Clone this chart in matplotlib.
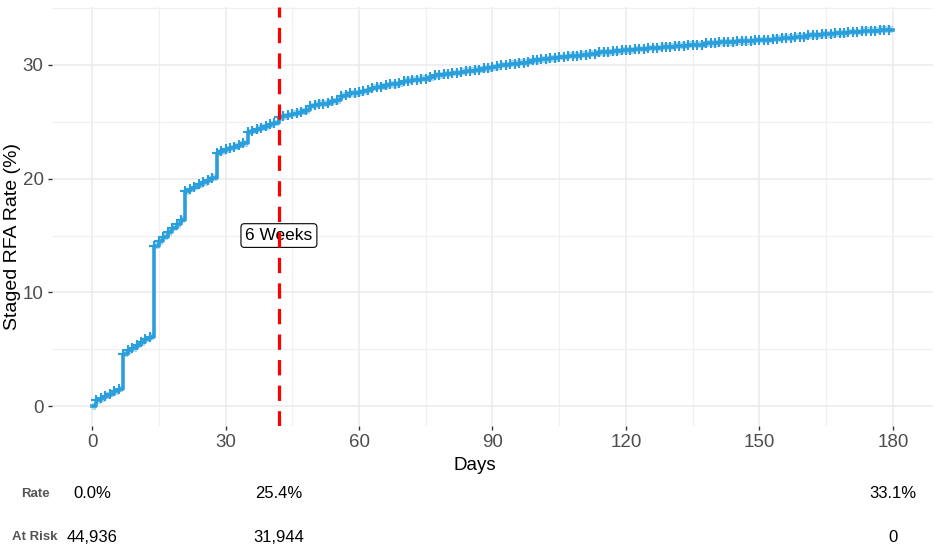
import matplotlib
matplotlib.use("Agg")
import matplotlib.pyplot as plt
import numpy as np

plt.rcParams['font.family'] = ['Liberation Sans', 'DejaVu Sans']

# ---------------- data ----------------
days = list(range(0, 180))
rate_pct = [
    0.0, 0.5, 0.7, 0.9, 1.1, 1.3, 1.5,
    4.6, 4.9, 5.1, 5.4, 5.6, 5.9, 6.1,
    14.1, 14.5, 14.9, 15.3, 15.7, 16.0, 16.4,
    18.9, 19.1, 19.3, 19.5, 19.7, 19.9, 20.1,
    22.3, 22.4, 22.6, 22.7, 22.8, 23.0, 23.1,
    24.1, 24.2, 24.4, 24.5, 24.6, 24.8, 24.9,
    25.4, 25.5, 25.6, 25.7, 25.8, 25.9, 26.0,
    26.4, 26.5, 26.6, 26.6, 26.7, 26.8, 26.9,
    27.3, 27.4, 27.5, 27.5, 27.6, 27.7, 27.8,
    28.0, 28.1, 28.1, 28.2, 28.3, 28.3, 28.4,
    28.6, 28.6, 28.7, 28.7, 28.8, 28.8, 28.9,
    29.1, 29.1, 29.2, 29.2, 29.3, 29.3, 29.4,
    29.5, 29.5, 29.6, 29.6, 29.7, 29.7, 29.8,
    29.9, 30.0, 30.0, 30.1, 30.1, 30.2, 30.2,
    30.3, 30.4, 30.4, 30.5, 30.5, 30.6, 30.6,
    30.7, 30.7, 30.8, 30.8, 30.8, 30.9, 30.9,
    31.0, 31.0, 31.1, 31.1, 31.1, 31.2, 31.2,
    31.3, 31.3, 31.3, 31.4, 31.4, 31.4, 31.5,
    31.5, 31.5, 31.6, 31.6, 31.6, 31.7, 31.7,
    31.7, 31.8, 31.8, 31.8, 31.8, 31.9, 31.9,
    31.9, 32.0, 32.0, 32.0, 32.0, 32.1, 32.1,
    32.1, 32.1, 32.2, 32.2, 32.2, 32.2, 32.3,
    32.3, 32.4, 32.4, 32.4, 32.5, 32.5, 32.5,
    32.6, 32.6, 32.6, 32.7, 32.7, 32.7, 32.8,
    32.8, 32.8, 32.9, 32.9, 32.9, 33.0, 33.0,
    33.0, 33.0, 33.1, 33.1, 33.1,
]
ci_halfwidth = 0.3
follow_up_end = 180
marker_day = 42
marker_label = "6 Weeks"
marker_label_y = 15

x_ticks = [0, 30, 60, 90, 120, 150, 180]
y_ticks = [0, 10, 20, 30]

table_rows = ["Rate", "At Risk"]
table_days = [0, 42, 180]
table_rate = ["0.0%", "25.4%", "33.1%"]
table_at_risk = ["44,936", "31,944", "0"]

# ---------------- figure ----------------
W, H = 937, 549
fig = plt.figure(figsize=(W / 100, H / 100), dpi=100)
fig.patch.set_facecolor("white")

L, R, T, B = 52, 933, 7, 426
ax = fig.add_axes([L / W, 1 - B / H, (R - L) / W, (B - T) / H])
ax.set_xlim(-9, 189)
ax.set_ylim(-1.75, 35.1)

for s in ax.spines.values():
    s.set_visible(False)

ax.set_xticks(x_ticks)
ax.set_yticks(y_ticks)
ax.set_xticks([15, 45, 75, 105, 135, 165], minor=True)
ax.set_yticks([5, 15, 25, 35], minor=True)
ax.grid(True, which="major", color="#EBEBEB", linewidth=1.1, zorder=0)
ax.grid(True, which="minor", color="#F0F0F0", linewidth=0.9, zorder=0)
ax.tick_params(axis="both", which="major", length=3, width=1.0, color="#333333",
               labelsize=13.5, labelcolor="#4D4D4D", pad=3)
ax.tick_params(axis="both", which="minor", length=0)
ax.set_axisbelow(True)

t = np.array(days + [follow_up_end])
r = np.array(rate_pct + [rate_pct[-1]])

line_col = "#2B9FDC"
band_col = "#A9DAF3"
ax.fill_between(t, r - ci_halfwidth, r + ci_halfwidth, step="post",
                color=band_col, linewidth=0, zorder=2)
ax.step(t, r, where="post", color=line_col, linewidth=2.6, zorder=3)
ax.plot(days[1:], rate_pct[1:], linestyle="none", marker="+", markersize=7.5,
        markeredgewidth=1.5, color=line_col, zorder=4)

ax.text(marker_day, marker_label_y, marker_label, ha="center", va="center",
        fontsize=12.5, color="black", zorder=5,
        bbox=dict(boxstyle="round,pad=0.25,rounding_size=0.2", facecolor="white",
                  edgecolor="black", linewidth=0.8))
ax.axvline(marker_day, color="#FF0000", linewidth=2.3, dashes=(4.8, 3.2), zorder=6)

def fig_y(py):
    return 1 - py / H

fig.text(13 / W, fig_y(236), "Staged RFA Rate (%)", rotation=90, ha="center",
         va="center", fontsize=14, color="black")
fig.text(475 / W, fig_y(465), "Days", ha="center", va="center", fontsize=13.5,
         color="black")

# ---------------- risk table ----------------
row_y = [494, 537]
for lab, py in zip(table_rows, row_y):
    fig.text(35 / W, fig_y(py), lab, ha="center", va="center", fontsize=9.5,
             fontweight="bold", color="#555555")

for d, rv, av in zip(table_days, table_rate, table_at_risk):
    xf = ax.transData.transform((d, 0))[0]
    xf = fig.transFigure.inverted().transform((xf, 0))[0]
    fig.text(xf, fig_y(row_y[0]), rv, ha="center", va="center", fontsize=12, color="black")
    fig.text(xf, fig_y(row_y[1]), av, ha="center", va="center", fontsize=12, color="black")

fig.savefig("out.png", dpi=100, facecolor="white")
